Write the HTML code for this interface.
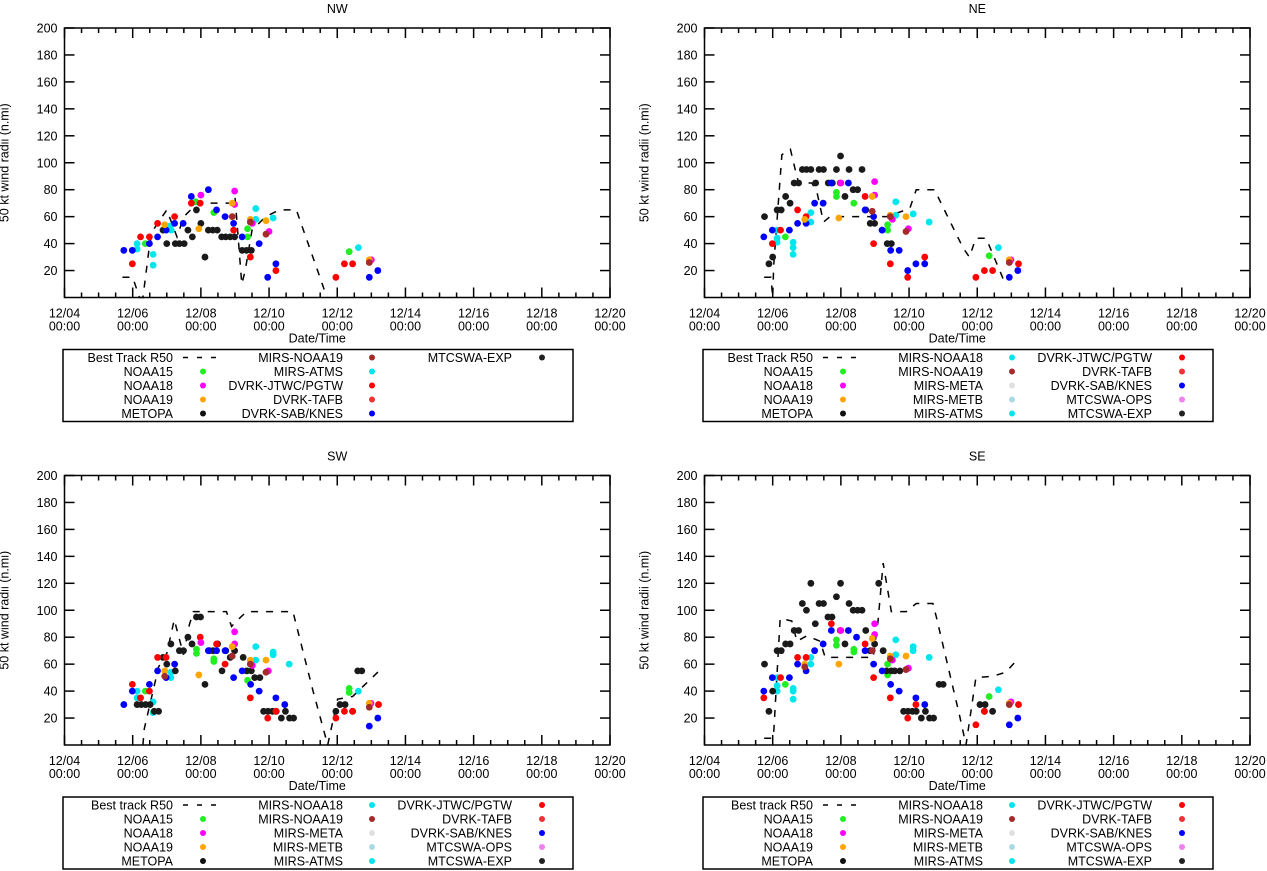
<!DOCTYPE html>
<html><head><meta charset="utf-8"><style>
html,body{margin:0;padding:0;background:#fff}
svg{display:block;font-family:"Liberation Sans",Arial,sans-serif}
</style></head><body>
<svg id="chart" width="1267" height="871" viewBox="0 0 1267 871" xmlns="http://www.w3.org/2000/svg"></svg>
<script>
// ---- data: [day since 12/04 00:00, radius n.mi] ----
const xTickLabels = ["12/04","12/06","12/08","12/10","12/12","12/14","12/16","12/18","12/20"];
const yTickValues = [20,40,60,80,100,120,140,160,180,200];

const nwBest = [[1.7,15],[2.0,15],[2.2,0],[2.3,0],[2.5,40],[2.6,50],[3.0,65],[3.3,45],[3.5,60],[3.9,70],[4.9,70],[5.0,75],[5.2,10],[5.3,20],[5.5,50],[5.9,60],[6.3,65],[6.8,65],[7.7,0]];
const nwBlue = [[1.74,35],[1.99,35],[2.49,40],[2.73,45],[2.98,50],[3.23,55],[3.48,55],[3.72,75],[4.22,80],[4.46,65],[4.71,60],[4.96,55],[5.21,45],[5.71,40],[5.96,15],[6.2,25],[8.94,15],[9.19,20]];
const nwRed = [[1.99,25],[2.23,45],[2.49,45],[2.73,55],[3.23,60],[3.72,70],[3.98,70],[4.96,50],[5.45,30],[6.2,20],[7.96,15],[8.21,25],[8.45,25]];
const nwCyan = [[2.13,40],[2.13,36],[2.6,32],[2.6,24],[3.1,53],[3.13,50],[5.61,66],[5.61,58],[6.12,59],[8.62,37]];
const nwGreen = [[2.37,40],[3.85,71],[4.38,63],[5.37,51],[5.37,45],[8.35,34]];
const nwMagenta = [[4.0,76],[4.99,79],[4.99,69],[5.51,55],[6.0,49],[9.0,28]];
const nwOrange = [[2.94,54],[3.94,51],[4.92,70],[5.45,58],[5.91,57],[8.94,28]];
const nwBrown = [[4.92,60],[5.45,56],[5.91,47],[8.94,26]];
const nwBlack = [[2.89,50],[3.0,40],[3.25,40],[3.37,40],[3.51,40],[3.62,50],[3.75,45],[3.87,65],[4.0,55],[4.12,30],[4.22,50],[4.35,50],[4.48,50],[4.61,45],[4.73,45],[4.86,45],[4.99,45],[5.21,35],[5.34,35],[5.48,35]];

const neBest = [[1.75,15],[1.95,15],[2.0,0],[2.03,24],[2.27,106],[2.52,110],[2.66,95],[2.76,85],[3.15,85],[3.3,78],[3.49,56],[3.68,60],[4.02,60],[5.34,60],[6.02,66],[6.21,80],[6.75,80],[6.9,72],[7.58,37],[7.77,30],[7.96,44],[8.26,44],[8.84,9]];
const neBlue = [[1.74,45],[1.99,50],[2.49,50],[2.73,55],[2.98,55],[3.23,70],[3.48,70],[3.72,85],[4.22,85],[4.71,65],[4.96,60],[5.21,50],[5.46,35],[5.71,35],[5.96,20],[6.2,25],[6.46,25],[8.94,15],[9.19,20]];
const neRed = [[1.99,40],[2.23,50],[2.73,65],[2.98,60],[3.98,85],[4.71,75],[4.96,40],[5.45,25],[5.96,15],[6.46,30],[7.96,15],[8.21,20],[8.45,20],[9.21,25]];
const neCyan = [[2.13,50],[2.13,44],[2.13,41],[2.6,41],[2.6,37],[2.6,32],[3.12,63],[3.12,56],[5.61,71],[5.61,61],[6.12,62],[6.59,56],[8.62,37]];
const neGreen = [[2.37,45],[3.87,78],[3.87,75],[4.38,70],[5.37,54],[5.37,50],[8.35,31]];
const neMagenta = [[4.0,85],[4.99,86],[4.99,76],[5.51,58],[5.98,51],[8.99,28]];
const neOrange = [[2.94,58],[3.94,59],[4.92,75],[5.45,61],[5.91,60],[8.94,28]];
const neBrown = [[4.92,64],[5.45,60],[5.91,49],[8.94,26]];
const neBlack = [[1.76,60],[1.89,25],[2.0,30],[2.13,65],[2.25,65],[2.38,75],[2.51,70],[2.63,85],[2.76,85],[2.87,95],[2.99,95],[3.12,95],[3.26,85],[3.36,95],[3.49,95],[3.63,85],[3.75,85],[3.87,95],[3.99,105],[4.12,75],[4.24,95],[4.36,80],[4.49,80],[4.62,95],[4.73,65],[4.86,55],[4.99,55],[5.21,50],[5.36,40],[5.48,40]];

const swBest = [[2.3,0],[2.34,12],[2.76,58],[3.0,68],[3.22,93],[3.49,67],[3.66,89],[3.78,99],[4.75,99],[4.9,88],[5.09,93],[5.34,99],[6.7,99],[7.28,41],[7.72,0],[8.01,34],[8.45,36],[9.23,55]];
const swBlue = [[1.74,30],[1.99,40],[2.49,45],[2.73,55],[2.98,50],[3.23,60],[4.22,70],[4.46,70],[4.71,70],[4.96,50],[5.21,55],[5.46,45],[5.71,40],[6.2,35],[6.46,30],[8.94,14],[9.19,20]];
const swRed = [[1.99,45],[2.23,35],[2.49,40],[2.73,65],[2.98,65],[3.98,80],[4.46,75],[4.71,60],[5.45,35],[5.96,20],[6.2,25],[7.96,20],[8.21,25],[8.45,25],[9.21,30]];
const swCyan = [[2.13,40],[2.13,35],[2.6,32],[2.6,24],[3.12,54],[3.12,50],[5.61,73],[5.61,63],[6.12,69],[6.12,67],[6.59,60],[8.62,40]];
const swGreen = [[2.37,40],[3.87,71],[3.87,68],[4.38,64],[4.38,62],[5.37,55],[5.37,48],[8.35,42],[8.35,39]];
const swMagenta = [[4.0,76],[4.99,84],[4.99,75],[5.51,59],[5.98,55],[8.99,31]];
const swOrange = [[2.94,55],[3.94,52],[4.92,73],[5.45,63],[5.91,63],[8.94,31]];
const swBrown = [[2.94,51],[4.92,66],[5.45,60],[5.91,54],[8.94,28]];
const swBlack = [[2.13,30],[2.25,30],[2.38,30],[2.51,30],[2.63,25],[2.76,25],[2.89,65],[3.0,60],[3.12,75],[3.25,55],[3.37,70],[3.49,70],[3.62,80],[3.74,75],[3.87,95],[3.99,95],[4.12,45],[4.25,70],[4.36,70],[4.49,75],[4.62,55],[4.73,70],[4.86,65],[4.99,70],[5.24,65],[5.34,55],[5.48,55],[5.58,50],[5.73,50],[5.84,25],[5.97,25],[6.1,25],[6.21,25],[6.36,20],[6.48,25],[6.6,20],[6.72,20],[7.96,25],[8.08,30],[8.23,30],[8.45,25],[8.6,55],[8.72,55]];

const seBest = [[1.75,5],[2.0,5],[2.03,9],[2.22,94],[2.56,92],[2.71,77],[3.0,81],[3.39,77],[3.54,65],[4.95,65],[5.09,92],[5.24,135],[5.48,99],[5.92,99],[6.21,105],[6.7,105],[6.8,95],[7.48,22],[7.67,0],[7.96,50],[8.45,51],[8.84,54],[9.23,65]];
const seBlue = [[1.74,40],[1.99,50],[2.49,50],[2.73,60],[2.98,55],[3.23,70],[3.48,75],[3.72,85],[4.22,85],[4.46,80],[4.71,70],[4.96,60],[5.21,55],[5.46,45],[5.71,40],[6.2,35],[6.46,30],[8.94,15],[9.19,20]];
const seRed = [[1.74,35],[2.23,50],[2.73,65],[2.98,65],[3.72,90],[3.98,85],[4.71,75],[4.96,50],[5.45,35],[5.96,20],[6.2,30],[7.96,15],[8.21,25],[9.21,30]];
const seCyan = [[2.13,50],[2.13,44],[2.13,40],[2.6,42],[2.6,40],[2.6,34],[3.12,65],[3.12,60],[5.61,78],[5.61,67],[6.12,73],[6.12,70],[6.59,65],[8.62,41]];
const seGreen = [[2.37,45],[3.87,78],[3.87,74],[4.38,71],[4.38,69],[5.37,60],[5.37,52],[8.35,36]];
const seMagenta = [[4.0,85],[4.99,90],[4.99,82],[5.51,63],[5.98,57],[8.99,32]];
const seOrange = [[2.94,60],[3.94,60],[4.92,79],[5.45,66],[5.91,66],[8.94,31]];
const seBrown = [[2.94,58],[4.92,70],[5.45,64],[5.91,56],[8.94,30]];
const seBlack = [[1.76,60],[1.89,25],[2.0,40],[2.13,70],[2.25,70],[2.38,75],[2.51,75],[2.63,85],[2.76,85],[2.87,105],[2.99,100],[3.12,120],[3.25,90],[3.36,105],[3.49,105],[3.62,95],[3.74,95],[3.87,110],[3.99,120],[4.12,75],[4.24,105],[4.36,100],[4.49,100],[4.62,100],[4.73,85],[4.86,70],[4.99,75],[5.11,120],[5.24,70],[5.34,55],[5.48,55],[5.58,55],[5.73,55],[5.84,25],[5.97,25],[6.1,25],[6.21,25],[6.36,20],[6.48,25],[6.6,20],[6.72,20],[6.88,45],[7.0,45],[8.08,30],[8.23,30],[8.21,25],[8.45,25]];

const nwLegend = [["Best Track R50","dash"],["NOAA15","#22ee22"],["NOAA18","#ff00ff"],["NOAA19","#ffa500"],["METOPA","#111"],
  ["MIRS-NOAA19","#a52a2a"],["MIRS-ATMS","#00e5ee"],["DVRK-JTWC/PGTW","#ff0000"],["DVRK-TAFB","#ee3333"],["DVRK-SAB/KNES","#0000ff"],["MTCSWA-EXP","#222"]];
const fullLegendTail = [["MIRS-NOAA18","#00e5ee"],["MIRS-NOAA19","#a52a2a"],["MIRS-META","#e0e0e0"],["MIRS-METB","#add8e6"],["MIRS-ATMS","#00e5ee"],
  ["DVRK-JTWC/PGTW","#ff0000"],["DVRK-TAFB","#ee3333"],["DVRK-SAB/KNES","#0000ff"],["MTCSWA-OPS","#ee82ee"],["MTCSWA-EXP","#222"]];
const neLegend = [["Best Track R50","dash"],["NOAA15","#22ee22"],["NOAA18","#ff00ff"],["NOAA19","#ffa500"],["METOPA","#111"]].concat(fullLegendTail);
const swLegend = [["Best track R50","dash"],["NOAA15","#22ee22"],["NOAA18","#ff00ff"],["NOAA19","#ffa500"],["METOPA","#111"]].concat(fullLegendTail);

const C = {green:"#22ee22",magenta:"#ff00ff",orange:"#ffa500",brown:"#a52a2a",cyan:"#00e5ee",red:"#ff0000",blue:"#0000ff",black:"#1a1a1a"};

const panels = [
 {name:"nw",title:"NW",x0:64.5,y0:28,best:nwBest,series:[["cyan",nwCyan],["green",nwGreen],["black",nwBlack],["red",nwRed],["blue",nwBlue],["magenta",nwMagenta],["orange",nwOrange],["brown",nwBrown]],legend:nwLegend},
 {name:"ne",title:"NE",x0:704.5,y0:28,best:neBest,series:[["cyan",neCyan],["green",neGreen],["black",neBlack],["red",neRed],["blue",neBlue],["magenta",neMagenta],["orange",neOrange],["brown",neBrown]],legend:neLegend},
 {name:"sw",title:"SW",x0:64.5,y0:475.5,best:swBest,series:[["cyan",swCyan],["green",swGreen],["black",swBlack],["red",swRed],["blue",swBlue],["magenta",swMagenta],["orange",swOrange],["brown",swBrown]],legend:swLegend},
 {name:"se",title:"SE",x0:704.5,y0:475.5,best:seBest,series:[["cyan",seCyan],["green",seGreen],["black",seBlack],["red",seRed],["blue",seBlue],["magenta",seMagenta],["orange",seOrange],["brown",seBrown]],legend:swLegend.map((e,i)=>i===0?["Best track R50","dash"]:e)}
];

const NS="http://www.w3.org/2000/svg";
const svg=document.getElementById("chart");
function mk(tag,attrs,parent,text){const e=document.createElementNS(NS,tag);for(const k in attrs)e.setAttribute(k,attrs[k]);if(text!==undefined)e.textContent=text;(parent||svg).appendChild(e);return e;}

const W=545.5,H=269.5,DAYS=16,YMAX=200;
panels.forEach(p=>{
  const g=mk("g",{},svg);
  
  
  const xs=d=>p.x0+d/DAYS*W, ys=v=>p.y0+H-v/YMAX*H;
  const t=mk("text",{x:p.x0+W/2,y:p.y0-15,"text-anchor":"middle","font-size":"12.5"},g,p.title);
  
  
  const yl=mk("text",{transform:`translate(${p.x0-56},${p.y0+H/2}) rotate(-90)`,"text-anchor":"middle","font-size":"12.5"},g,"50 kt wind radii (n.mi)");
  
  
  const xl=mk("text",{x:p.x0+W/2-20,y:p.y0+H+45,"text-anchor":"middle","font-size":"12.5"},g,"Date/Time");
  
  
  // y ticks
  yTickValues.forEach(v=>{
    const y=ys(v);
    mk("line",{x1:p.x0,x2:p.x0+10,y1:y,y2:y,stroke:"#000","stroke-width":1.5},g);
    mk("line",{x1:p.x0+W,x2:p.x0+W-10,y1:y,y2:y,stroke:"#000","stroke-width":1.5},g);
    const tl=mk("text",{x:p.x0-7,y:y+4.5,"text-anchor":"end","font-size":"12.5"},g,String(v));
    
    
  });
  // x ticks
  for(let k=0;k<=DAYS*2;k++){
    const d=k/2,x=xs(d),len=(k%4===0)?10:5;
    mk("line",{x1:x,x2:x,y1:p.y0+H,y2:p.y0+H-len,stroke:"#000","stroke-width":1.5},g);
    mk("line",{x1:x,x2:x,y1:p.y0,y2:p.y0+len,stroke:"#000","stroke-width":1.5},g);
  }
  xTickLabels.forEach((lab,i)=>{
    const x=xs(i*2);
    const a=mk("text",{x:x,y:p.y0+H+20,"text-anchor":"middle","font-size":"12.5"},g,lab);
    
    
    const b=mk("text",{x:x,y:p.y0+H+33,"text-anchor":"middle","font-size":"12.5"},g,"00:00");
    
    
  });
  // best track
  const bt=mk("polyline",{points:p.best.map(q=>xs(q[0])+","+ys(Math.max(0,q[1]))).join(" "),fill:"none",stroke:"#000","stroke-width":1.5,"stroke-dasharray":"7,8"},g);
  
  
  // points
  p.series.forEach(([col,arr])=>{
    arr.forEach(q=>{
      const c=mk("circle",{cx:xs(q[0]),cy:ys(q[1]),r:3.4,fill:C[col]},g);
      
      
    });
  });
  // frame
  const fr=mk("rect",{x:p.x0,y:p.y0,width:W,height:H,fill:"none",stroke:"#000","stroke-width":1.5},g);
  
  
  // legend
  const lx=p.x0-1.5, ly=p.y0+H+52;
  const lg=mk("g",{},g);
  
  
  mk("rect",{x:lx,y:ly,width:510,height:72,fill:"none",stroke:"#000","stroke-width":1.5},lg);
  const colRight=[110,280,449], colMark=[140,309,479];
  p.legend.forEach((e,i)=>{
    const c=Math.floor(i/5), r=i%5, y=ly+8+r*14;
    const tx=mk("text",{x:lx+colRight[c],y:y+4.5,"text-anchor":"end","font-size":"12.5"},lg,e[0]);
    
    
    if(e[1]==="dash"){
      mk("line",{x1:lx+colRight[c]+10,x2:lx+colRight[c]+45,y1:y,y2:y,stroke:"#000","stroke-width":1.5,"stroke-dasharray":"5,9"},lg);
    } else {
      mk("circle",{cx:lx+colMark[c],cy:y,r:3,fill:e[1]},lg);
    }
  });
});
</script>
</body></html>
